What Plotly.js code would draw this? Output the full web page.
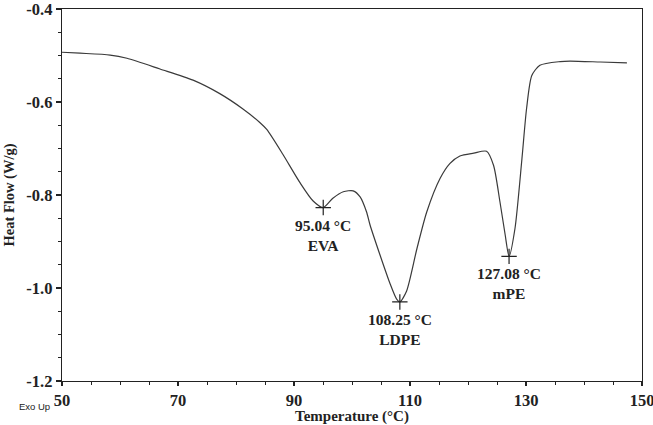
<!DOCTYPE html>
<html>
<head>
<meta charset="utf-8">
<script src="https://cdn.plot.ly/plotly-3.0.1.min.js"></script>
<style>html,body{margin:0;padding:0;background:#fff}#chart{width:653px;height:425px}</style>
</head>
<body>
<div id="chart"></div>
<script>
const temperature = [50, 53.1, 58.3, 61.2, 66.9, 72.6, 77.2, 81.2, 84.1, 85.3, 88.1, 91.0, 93.3, 95.04, 96.7, 98.5, 100.2, 101.4, 102.5, 103.1, 104.8, 106.6, 107.7, 108.25, 109.4, 111.2, 112.9, 115.2, 116.9, 118.6, 121.0, 123.2, 124.4, 125.5, 126.4, 127.08, 128.1, 129.3, 130.1, 131.0, 132.4, 135.9, 137.6, 142.8, 147.4];
const heatFlow = [-0.493, -0.495, -0.499, -0.506, -0.529, -0.553, -0.582, -0.615, -0.644, -0.659, -0.713, -0.773, -0.813, -0.827, -0.807, -0.793, -0.791, -0.804, -0.836, -0.864, -0.928, -0.992, -1.024, -1.030, -1.007, -0.915, -0.836, -0.764, -0.732, -0.716, -0.710, -0.706, -0.736, -0.814, -0.885, -0.932, -0.872, -0.722, -0.614, -0.543, -0.521, -0.513, -0.512, -0.514, -0.516];
const peakTemps = [95.04, 108.25, 127.08];
const peakFlows = [-0.827, -1.030, -0.932];
const peakLabels = ['95.04 °C', '108.25 °C', '127.08 °C'];
const peakNames = ['EVA', 'LDPE', 'mPE'];
const xTickVals = [50, 70, 90, 110, 130, 150];
const xTickText = ['50', '70', '90', '110', '130', '150'];
const yTickVals = [-0.4, -0.6, -0.8, -1.0, -1.2];
const yTickText = ['-0.4', '-0.6', '-0.8', '-1.0', '-1.2'];

const serif = 'Liberation Serif, Times New Roman, serif';
const ink = '#222';
const bold = s => '<b>' + s + '</b>';

const traces = [
  {x: temperature, y: heatFlow, type: 'scatter', mode: 'lines',
   line: {color: '#3a3a3a', width: 1.2, shape: 'spline', smoothing: 0.7}, hoverinfo: 'skip'},
  {x: peakTemps, y: peakFlows, type: 'scatter', mode: 'markers',
   marker: {symbol: 'cross-thin', size: 11, color: ink, line: {width: 1.2, color: ink}}, hoverinfo: 'skip'}
];

const mT = 9, mB = 44;
const plotW = 653 - 62 - 11, plotH = 425 - mT - mB;
const annotations = peakTemps.map((t, i) => ({
  x: t, y: peakFlows[i], xref: 'x', yref: 'y',
  text: bold(peakLabels[i]) + '<br>' + bold(peakNames[i]),
  showarrow: false, xanchor: 'center', yanchor: 'top', yshift: -7,
  font: {family: serif, size: 15.5, color: ink}
}));
annotations.push({
  x: (34 - 62) / plotW, y: 1 - (406 - mT) / plotH, xref: 'paper', yref: 'paper',
  xanchor: 'center', yanchor: 'middle', text: 'Exo Up', showarrow: false,
  font: {family: 'Liberation Sans, Arial, sans-serif', size: 9.5, color: ink}
});

const layout = {
  width: 653, height: 425,
  margin: {l: 62, r: 11, t: mT, b: mB},
  paper_bgcolor: '#fff', plot_bgcolor: '#fff',
  showlegend: false,
  xaxis: {
    range: [50, 150], tickmode: 'array', tickvals: xTickVals, ticktext: xTickText.map(bold),
    ticks: 'outside', ticklen: 4, tickwidth: 1.2, tickcolor: ink, ticklabeloverflow: 'allow',
    minor: {dtick: 5, tick0: 50, ticks: 'outside', ticklen: 3, tickcolor: ink, tickwidth: 1},
    showline: true, linecolor: ink, linewidth: 1.3, mirror: true, showgrid: false, zeroline: false,
    tickfont: {family: serif, size: 16.5, color: ink},
    title: {text: bold('Temperature (°C)'), font: {family: serif, size: 15, color: ink}, standoff: 2}
  },
  yaxis: {
    range: [-1.2, -0.4], tickmode: 'array', tickvals: yTickVals, ticktext: yTickText.map(bold),
    ticks: 'outside', ticklen: 5, tickwidth: 1.2, tickcolor: ink, ticklabeloverflow: 'allow',
    minor: {dtick: 0.05, tick0: -1.2, ticks: 'outside', ticklen: 3, tickcolor: ink, tickwidth: 1},
    showline: true, linecolor: ink, linewidth: 1.3, mirror: true, showgrid: false, zeroline: false,
    tickfont: {family: serif, size: 16.5, color: ink},
    title: {text: bold('Heat Flow (W/g)'), font: {family: serif, size: 14.5, color: ink}, standoff: 8}
  },
  annotations: annotations
};

Plotly.newPlot('chart', traces, layout, {staticPlot: true, displayModeBar: false});
</script>
</body>
</html>
